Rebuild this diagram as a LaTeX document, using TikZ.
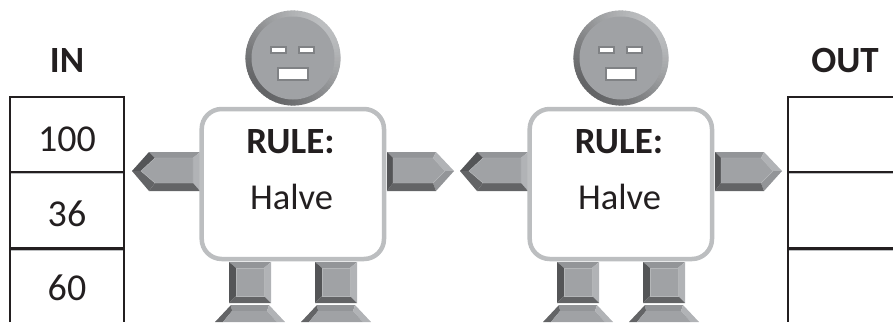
\documentclass[tikz,border=0pt]{standalone}
\usepackage{fontspec}
\setmainfont{Carlito}
\definecolor{ink}{HTML}{231F20}
\definecolor{frameg}{HTML}{BCBEC0}
\definecolor{bevD}{HTML}{636466}
\definecolor{bevM}{HTML}{939598}
\definecolor{bevL}{HTML}{B1B3B6}
\definecolor{face}{HTML}{A0A2A5}
\definecolor{hair}{HTML}{B4B6B8}
\definecolor{featg}{HTML}{808285}
\tikzset{
  x=1pt, y=-1pt,
  label big/.style={font=\fontsize{37}{40}\selectfont\bfseries, text=ink, inner sep=0pt},
  label reg/.style={font=\fontsize{38}{42}\selectfont, text=ink, inner sep=0pt},
  label op/.style={font=\fontsize{36.5}{40}\selectfont, text=ink, inner sep=0pt},
  cell frame/.style={draw=ink, line width=2.5pt, line join=miter},
  cell line/.style={draw=ink, line width=2.3pt},
  cell shade/.style={draw=frameg, line width=1pt},
  plate/.style={fill=face, draw=hair, line width=0.4pt},
  feature/.style={fill=white, draw=featg, line width=1.2pt},
  torso/.style={draw=frameg, line width=4.5pt, fill=white, rounded corners=20pt},
}
% one bevel facet
\newcommand{\facet}[2]{\fill[#1] #2 -- cycle;}
% a complete robot; its left edge reference is the unshifted position
\newcommand{\robot}[1]{%
  % head: bevelled rim built from short wedges, dark at lower left and light at upper right
  \foreach \a in {0,4,...,356}{
    \pgfmathsetmacro{\tone}{50+50*cos(\a-45)}
    \fill[frameg!\tone!bevD] (293,58) -- ++(\a:47.6 and -47.6) arc[start angle=\a,end angle=\a+4.6,x radius=47.6,y radius=-47.6] -- cycle;
  }
  \fill[face] (293,58) circle[radius=41.5];
  \draw[feature] (271,47) rectangle (286,53);
  \draw[feature] (299,47) rectangle (314,53);
  \draw[feature] (278,68) rectangle (308,80);
  % left arm
  \facet{bevM}{(149,152) -- (200,152) -- (193,158) -- (155,158)}
  \facet{bevL}{(193,158) -- (200,152) -- (200,191) -- (193,183)}
  \facet{bevD}{(155,183) -- (193,183) -- (200,191) -- (149,191)}
  \facet{bevD!85!black}{(149,152) -- (155,158) -- (141,171) -- (132,171)}
  \facet{bevD}{(132,171) -- (141,171) -- (155,183) -- (149,191)}
  \filldraw[plate] (155,158) -- (193,158) -- (193,183) -- (155,183) -- (141,171) -- cycle;
  % right arm
  \facet{bevM}{(387,152) -- (436,152) -- (433,158) -- (393,158)}
  \facet{bevL}{(436,152) -- (454,171) -- (445,171) -- (433,158)}
  \facet{bevM}{(445,171) -- (454,171) -- (436,191) -- (433,183)}
  \facet{bevD}{(393,183) -- (433,183) -- (436,191) -- (387,191)}
  \facet{bevD!85!black}{(387,152) -- (393,158) -- (393,183) -- (387,191)}
  \filldraw[plate] (393,158) -- (433,158) -- (445,171) -- (433,183) -- (393,183) -- cycle;
  % legs and feet
  \foreach \d in {0,86}{
    \begin{scope}[xshift=\d pt]
      \facet{bevM}{(229,262) -- (271,262) -- (264,268) -- (236,268)}
      \facet{bevD!85!black}{(229,262) -- (236,268) -- (236,296) -- (229,303)}
      \facet{bevL}{(271,262) -- (264,268) -- (264,296) -- (271,303)}
      \facet{bevD}{(236,296) -- (264,296) -- (271,303) -- (229,303)}
      \filldraw[plate] (236,268) rectangle (264,296);
      \facet{bevM}{(231,305) -- (269,305) -- (267,311) -- (232,311)}
      \facet{bevD}{(231,305) -- (232,311) -- (223,322) -- (215,322)}
      \facet{bevL}{(269,305) -- (285,322) -- (277,322) -- (267,311)}
      \fill[face] (232,311) -- (267,311) -- (277,322) -- (223,322) -- cycle;
    \end{scope}
  }
  % body panel goes last so it overlaps the limb roots
  \draw[torso] (201.7,109) rectangle (384,259);
}
\begin{document}
\begin{tikzpicture}
\useasboundingbox (0,0) rectangle (893,322);
\clip (0,0) rectangle (893,322);

% input table
\draw[cell shade] (10,173.7) -- (124,173.7) (10,250.2) -- (124,250.2);
\draw[cell line] (10,172) -- (124,172) (10,248.5) -- (124,248.5);
\draw[cell frame] (10,322) -- (10,97) -- (124,97) -- (124,322);
% output table
\draw[cell shade] (788,173.7) -- (893,173.7) (788,250.2) -- (893,250.2);
\draw[cell line] (788,172) -- (893,172) (788,248.5) -- (893,248.5);
\draw[cell frame] (893,97) -- (788,97) -- (788,322);

\node[label big] (inhead) at (67,60) {IN};
\node[label big] (outhead) at (845,60) {OUT};
\node[label reg] (v1) at (67,139) {100};
\node[label reg] (v2) at (67,214) {36};
\node[label reg] (v3) at (67,288) {60};

\robot{}
\begin{scope}[xshift=328pt]
  \robot{}
\end{scope}

\node[label big] (ruleA) at (290.5,142) {RULE:};
\node[label op] (opA) at (291.5,197) {Halve};
\node[label big] (ruleB) at (619,142) {RULE:};
\node[label op] (opB) at (619.5,197) {Halve};
\end{tikzpicture}
\end{document}
